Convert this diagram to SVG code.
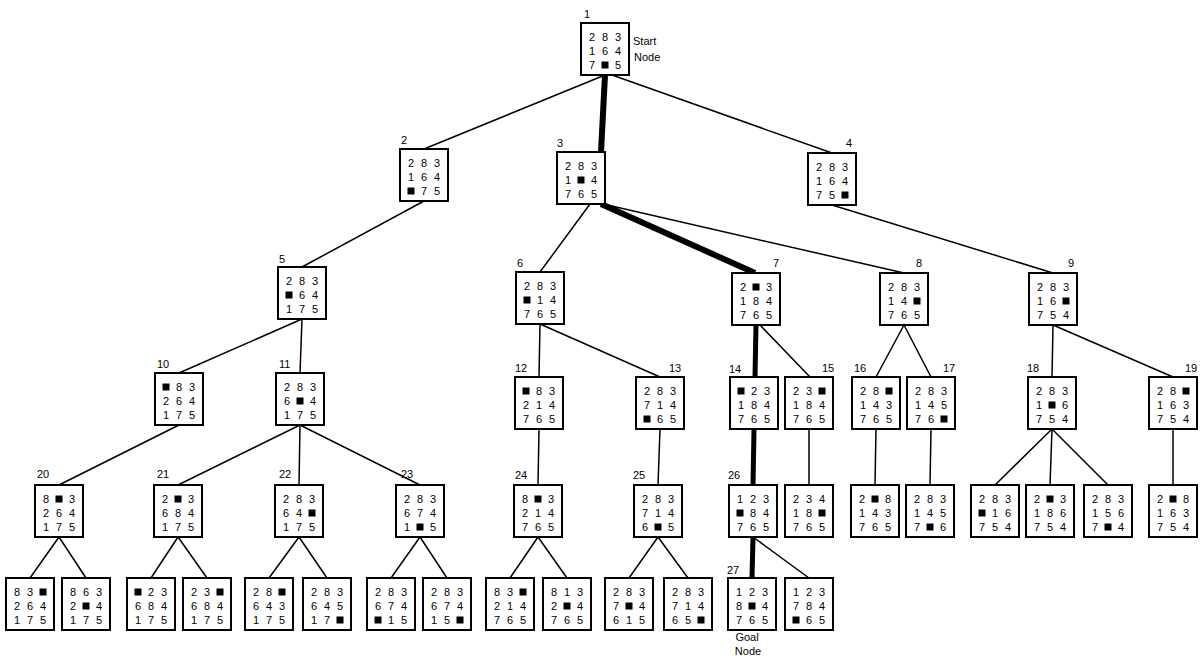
<svg xmlns="http://www.w3.org/2000/svg" xmlns:xlink="http://www.w3.org/1999/xlink" width="1200" height="667" viewBox="0 0 1200 667">
<style>
.b{fill:#fff;stroke:#000;stroke-width:2}
.c{font-family:"Liberation Sans",Arial,sans-serif;font-size:11px;text-anchor:middle;fill:#000}
.l{font-family:"Liberation Sans",Arial,sans-serif;font-size:11px;fill:#000}
.lm{font-family:"Liberation Sans",Arial,sans-serif;font-size:11px;fill:#000;text-anchor:middle}
.e{stroke:#000;stroke-width:1.5;fill:none;stroke-linecap:round}
.t{stroke:#000;stroke-width:6;fill:none}
.t2{stroke:#000;stroke-width:5;fill:none}
</style>
<defs>
<rect id="bk" width="7" height="7" fill="#000"/>
<rect id="bx" class="b" width="48" height="52"/>
</defs>
<rect width="1200" height="667" fill="#fff"/>
<g id="edges">
<line class="e" x1="605" y1="75" x2="424" y2="149"/>
<line class="e" x1="612" y1="75" x2="832" y2="153"/>
<line class="t" x1="605" y1="75" x2="601" y2="152"/>
<line class="e" x1="424" y1="201" x2="302" y2="267"/>
<line class="e" x1="590" y1="204" x2="540" y2="272"/>
<line class="e" x1="603" y1="204" x2="904" y2="273"/>
<line class="t" x1="601" y1="204" x2="755" y2="273"/>
<line class="e" x1="832" y1="205" x2="1053" y2="273"/>
<line class="e" x1="302" y1="319" x2="179" y2="373"/>
<line class="e" x1="302" y1="319" x2="300" y2="373"/>
<line class="e" x1="540" y1="324" x2="539" y2="377"/>
<line class="e" x1="540" y1="324" x2="660" y2="377"/>
<line class="t2" x1="756" y1="325" x2="755" y2="377"/>
<line class="e" x1="760" y1="325" x2="810" y2="377"/>
<line class="e" x1="904" y1="325" x2="876" y2="377"/>
<line class="e" x1="904" y1="325" x2="931" y2="377"/>
<line class="e" x1="1053" y1="325" x2="1052" y2="377"/>
<line class="e" x1="1053" y1="325" x2="1173" y2="377"/>
<line class="e" x1="179" y1="425" x2="59" y2="485"/>
<line class="e" x1="300" y1="425" x2="178" y2="485"/>
<line class="e" x1="300" y1="425" x2="299" y2="485"/>
<line class="e" x1="300" y1="425" x2="420" y2="485"/>
<line class="e" x1="539" y1="429" x2="538" y2="485"/>
<line class="e" x1="660" y1="429" x2="658" y2="485"/>
<line class="t2" x1="754" y1="429" x2="753" y2="485"/>
<line class="e" x1="809" y1="429" x2="809" y2="485"/>
<line class="e" x1="876" y1="429" x2="875" y2="485"/>
<line class="e" x1="931" y1="429" x2="930" y2="485"/>
<line class="e" x1="1052" y1="429" x2="995" y2="485"/>
<line class="e" x1="1052" y1="429" x2="1050" y2="485"/>
<line class="e" x1="1052" y1="429" x2="1108" y2="485"/>
<line class="e" x1="1173" y1="429" x2="1173" y2="485"/>
<line class="e" x1="59" y1="537" x2="30" y2="578"/>
<line class="e" x1="59" y1="537" x2="86" y2="578"/>
<line class="e" x1="178" y1="537" x2="151" y2="578"/>
<line class="e" x1="178" y1="537" x2="207" y2="578"/>
<line class="e" x1="299" y1="537" x2="269" y2="578"/>
<line class="e" x1="299" y1="537" x2="327" y2="578"/>
<line class="e" x1="420" y1="537" x2="391" y2="578"/>
<line class="e" x1="420" y1="537" x2="447" y2="578"/>
<line class="e" x1="538" y1="537" x2="510" y2="578"/>
<line class="e" x1="538" y1="537" x2="567" y2="578"/>
<line class="e" x1="658" y1="537" x2="629" y2="578"/>
<line class="e" x1="658" y1="537" x2="688" y2="578"/>
<line class="t2" x1="753" y1="537" x2="752" y2="578"/>
<line class="e" x1="753" y1="537" x2="809" y2="578"/>
</g>

<g id="n1" transform="translate(581,23)"><use xlink:href="#bx"/><text class="l" x="3" y="-5">1</text>
<text class="c" x="11 24 37" y="18">283</text><text class="c" x="11 24 37" y="32">164</text><text class="c" x="11 37" y="46">75</text><use xlink:href="#bk" x="20.5" y="38.5"/>
<text class="l" x="52" y="22">Start</text><text class="l" x="53" y="38">Node</text></g>

<g id="n2" transform="translate(400,149)"><use xlink:href="#bx"/><text class="l" x="1" y="-5">2</text>
<text class="c" x="11 24 37" y="18">283</text><text class="c" x="11 24 37" y="32">164</text><text class="c" x="24 37" y="46">75</text><use xlink:href="#bk" x="7.5" y="38.5"/></g>

<g id="n3" transform="translate(557,152)"><use xlink:href="#bx"/><text class="l" x="0" y="-5">3</text>
<text class="c" x="11 24 37" y="18">283</text><text class="c" x="11 37" y="32">14</text><use xlink:href="#bk" x="20.5" y="24.5"/><text class="c" x="11 24 37" y="46">765</text></g>

<g id="n4" transform="translate(808,153)"><use xlink:href="#bx"/><text class="l" x="38" y="-6">4</text>
<text class="c" x="11 24 37" y="18">283</text><text class="c" x="11 24 37" y="32">164</text><text class="c" x="11 24" y="46">75</text><use xlink:href="#bk" x="33.5" y="38.5"/></g>

<g id="n5" transform="translate(278,267)"><use xlink:href="#bx"/><text class="l" x="1" y="-4">5</text>
<text class="c" x="11 24 37" y="18">283</text><text class="c" x="24 37" y="32">64</text><use xlink:href="#bk" x="7.5" y="24.5"/><text class="c" x="11 24 37" y="46">175</text></g>

<g id="n6" transform="translate(516,272)"><use xlink:href="#bx"/><text class="l" x="1" y="-5">6</text>
<text class="c" x="11 24 37" y="18">283</text><text class="c" x="24 37" y="32">14</text><use xlink:href="#bk" x="7.5" y="24.5"/><text class="c" x="11 24 37" y="46">765</text></g>

<g id="n7" transform="translate(732,273)"><use xlink:href="#bx"/><text class="l" x="41" y="-6">7</text>
<text class="c" x="11 37" y="18">23</text><use xlink:href="#bk" x="20.5" y="10.5"/><text class="c" x="11 24 37" y="32">184</text><text class="c" x="11 24 37" y="46">765</text></g>

<g id="n8" transform="translate(880,273)"><use xlink:href="#bx"/><text class="l" x="36" y="-6">8</text>
<text class="c" x="11 24 37" y="18">283</text><text class="c" x="11 24" y="32">14</text><use xlink:href="#bk" x="33.5" y="24.5"/><text class="c" x="11 24 37" y="46">765</text></g>

<g id="n9" transform="translate(1029,273)"><use xlink:href="#bx"/><text class="l" x="39" y="-6">9</text>
<text class="c" x="11 24 37" y="18">283</text><text class="c" x="11 24" y="32">16</text><use xlink:href="#bk" x="33.5" y="24.5"/><text class="c" x="11 24 37" y="46">754</text></g>

<g id="n10" transform="translate(155,373)"><use xlink:href="#bx"/><text class="l" x="2" y="-5">10</text>
<text class="c" x="24 37" y="18">83</text><use xlink:href="#bk" x="7.5" y="10.5"/><text class="c" x="11 24 37" y="32">264</text><text class="c" x="11 24 37" y="46">175</text></g>

<g id="n11" transform="translate(276,373)"><use xlink:href="#bx"/><text class="l" x="3" y="-5">11</text>
<text class="c" x="11 24 37" y="18">283</text><text class="c" x="11 37" y="32">64</text><use xlink:href="#bk" x="20.5" y="24.5"/><text class="c" x="11 24 37" y="46">175</text></g>

<g id="n12" transform="translate(515,377)"><use xlink:href="#bx"/><text class="l" x="0" y="-5">12</text>
<text class="c" x="24 37" y="18">83</text><use xlink:href="#bk" x="7.5" y="10.5"/><text class="c" x="11 24 37" y="32">214</text><text class="c" x="11 24 37" y="46">765</text></g>

<g id="n13" transform="translate(636,377)"><use xlink:href="#bx"/><text class="l" x="33" y="-5">13</text>
<text class="c" x="11 24 37" y="18">283</text><text class="c" x="11 24 37" y="32">714</text><text class="c" x="24 37" y="46">65</text><use xlink:href="#bk" x="7.5" y="38.5"/></g>

<g id="n14" transform="translate(730,377)"><use xlink:href="#bx"/><text class="l" x="-1" y="-4">14</text>
<text class="c" x="24 37" y="18">23</text><use xlink:href="#bk" x="7.5" y="10.5"/><text class="c" x="11 24 37" y="32">184</text><text class="c" x="11 24 37" y="46">765</text></g>

<g id="n15" transform="translate(785,377)"><use xlink:href="#bx"/><text class="l" x="37" y="-5">15</text>
<text class="c" x="11 24" y="18">23</text><use xlink:href="#bk" x="33.5" y="10.5"/><text class="c" x="11 24 37" y="32">184</text><text class="c" x="11 24 37" y="46">765</text></g>

<g id="n16" transform="translate(852,377)"><use xlink:href="#bx"/><text class="l" x="2" y="-5">16</text>
<text class="c" x="11 24" y="18">28</text><use xlink:href="#bk" x="33.5" y="10.5"/><text class="c" x="11 24 37" y="32">143</text><text class="c" x="11 24 37" y="46">765</text></g>

<g id="n17" transform="translate(907,377)"><use xlink:href="#bx"/><text class="l" x="36" y="-5">17</text>
<text class="c" x="11 24 37" y="18">283</text><text class="c" x="11 24 37" y="32">145</text><text class="c" x="11 24" y="46">76</text><use xlink:href="#bk" x="33.5" y="38.5"/></g>

<g id="n18" transform="translate(1028,377)"><use xlink:href="#bx"/><text class="l" x="-1" y="-5">18</text>
<text class="c" x="11 24 37" y="18">283</text><text class="c" x="11 37" y="32">16</text><use xlink:href="#bk" x="20.5" y="24.5"/><text class="c" x="11 24 37" y="46">754</text></g>

<g id="n19" transform="translate(1149,377)"><use xlink:href="#bx"/><text class="l" x="36" y="-5">19</text>
<text class="c" x="11 24" y="18">28</text><use xlink:href="#bk" x="33.5" y="10.5"/><text class="c" x="11 24 37" y="32">163</text><text class="c" x="11 24 37" y="46">754</text></g>

<g id="n20" transform="translate(35,485)"><use xlink:href="#bx"/><text class="l" x="2" y="-7">20</text>
<text class="c" x="11 37" y="18">83</text><use xlink:href="#bk" x="20.5" y="10.5"/><text class="c" x="11 24 37" y="32">264</text><text class="c" x="11 24 37" y="46">175</text></g>

<g id="n21" transform="translate(154,485)"><use xlink:href="#bx"/><text class="l" x="3" y="-7">21</text>
<text class="c" x="11 37" y="18">23</text><use xlink:href="#bk" x="20.5" y="10.5"/><text class="c" x="11 24 37" y="32">684</text><text class="c" x="11 24 37" y="46">175</text></g>

<g id="n22" transform="translate(275,485)"><use xlink:href="#bx"/><text class="l" x="4" y="-7">22</text>
<text class="c" x="11 24 37" y="18">283</text><text class="c" x="11 24" y="32">64</text><use xlink:href="#bk" x="33.5" y="24.5"/><text class="c" x="11 24 37" y="46">175</text></g>

<g id="n23" transform="translate(396,485)"><use xlink:href="#bx"/><text class="l" x="5" y="-7">23</text>
<text class="c" x="11 24 37" y="18">283</text><text class="c" x="11 24 37" y="32">674</text><text class="c" x="11 37" y="46">15</text><use xlink:href="#bk" x="20.5" y="38.5"/></g>

<g id="n24" transform="translate(514,485)"><use xlink:href="#bx"/><text class="l" x="1" y="-6">24</text>
<text class="c" x="11 37" y="18">83</text><use xlink:href="#bk" x="20.5" y="10.5"/><text class="c" x="11 24 37" y="32">214</text><text class="c" x="11 24 37" y="46">765</text></g>

<g id="n25" transform="translate(634,485)"><use xlink:href="#bx"/><text class="l" x="-1" y="-6">25</text>
<text class="c" x="11 24 37" y="18">283</text><text class="c" x="11 24 37" y="32">714</text><text class="c" x="11 37" y="46">65</text><use xlink:href="#bk" x="20.5" y="38.5"/></g>

<g id="n26" transform="translate(729,485)"><use xlink:href="#bx"/><text class="l" x="-1" y="-6">26</text>
<text class="c" x="11 24 37" y="18">123</text><text class="c" x="24 37" y="32">84</text><use xlink:href="#bk" x="7.5" y="24.5"/><text class="c" x="11 24 37" y="46">765</text></g>

<g id="n15a" transform="translate(785,485)"><use xlink:href="#bx"/>
<text class="c" x="11 24 37" y="18">234</text><text class="c" x="11 24" y="32">18</text><use xlink:href="#bk" x="33.5" y="24.5"/><text class="c" x="11 24 37" y="46">765</text></g>

<g id="n16a" transform="translate(851,485)"><use xlink:href="#bx"/>
<text class="c" x="11 37" y="18">28</text><use xlink:href="#bk" x="20.5" y="10.5"/><text class="c" x="11 24 37" y="32">143</text><text class="c" x="11 24 37" y="46">765</text></g>

<g id="n17a" transform="translate(906,485)"><use xlink:href="#bx"/>
<text class="c" x="11 24 37" y="18">283</text><text class="c" x="11 24 37" y="32">145</text><text class="c" x="11 37" y="46">76</text><use xlink:href="#bk" x="20.5" y="38.5"/></g>

<g id="n18a" transform="translate(971,485)"><use xlink:href="#bx"/>
<text class="c" x="11 24 37" y="18">283</text><text class="c" x="24 37" y="32">16</text><use xlink:href="#bk" x="7.5" y="24.5"/><text class="c" x="11 24 37" y="46">754</text></g>

<g id="n18b" transform="translate(1026,485)"><use xlink:href="#bx"/>
<text class="c" x="11 37" y="18">23</text><use xlink:href="#bk" x="20.5" y="10.5"/><text class="c" x="11 24 37" y="32">186</text><text class="c" x="11 24 37" y="46">754</text></g>

<g id="n18c" transform="translate(1084,485)"><use xlink:href="#bx"/>
<text class="c" x="11 24 37" y="18">283</text><text class="c" x="11 24 37" y="32">156</text><text class="c" x="11 37" y="46">74</text><use xlink:href="#bk" x="20.5" y="38.5"/></g>

<g id="n19a" transform="translate(1149,485)"><use xlink:href="#bx"/>
<text class="c" x="11 37" y="18">28</text><use xlink:href="#bk" x="20.5" y="10.5"/><text class="c" x="11 24 37" y="32">163</text><text class="c" x="11 24 37" y="46">754</text></g>

<g id="n20a" transform="translate(6,578)"><use xlink:href="#bx"/>
<text class="c" x="11 24" y="18">83</text><use xlink:href="#bk" x="33.5" y="10.5"/><text class="c" x="11 24 37" y="32">264</text><text class="c" x="11 24 37" y="46">175</text></g>

<g id="n20b" transform="translate(62,578)"><use xlink:href="#bx"/>
<text class="c" x="11 24 37" y="18">863</text><text class="c" x="11 37" y="32">24</text><use xlink:href="#bk" x="20.5" y="24.5"/><text class="c" x="11 24 37" y="46">175</text></g>

<g id="n21a" transform="translate(127,578)"><use xlink:href="#bx"/>
<text class="c" x="24 37" y="18">23</text><use xlink:href="#bk" x="7.5" y="10.5"/><text class="c" x="11 24 37" y="32">684</text><text class="c" x="11 24 37" y="46">175</text></g>

<g id="n21b" transform="translate(183,578)"><use xlink:href="#bx"/>
<text class="c" x="11 24" y="18">23</text><use xlink:href="#bk" x="33.5" y="10.5"/><text class="c" x="11 24 37" y="32">684</text><text class="c" x="11 24 37" y="46">175</text></g>

<g id="n22a" transform="translate(245,578)"><use xlink:href="#bx"/>
<text class="c" x="11 24" y="18">28</text><use xlink:href="#bk" x="33.5" y="10.5"/><text class="c" x="11 24 37" y="32">643</text><text class="c" x="11 24 37" y="46">175</text></g>

<g id="n22b" transform="translate(303,578)"><use xlink:href="#bx"/>
<text class="c" x="11 24 37" y="18">283</text><text class="c" x="11 24 37" y="32">645</text><text class="c" x="11 24" y="46">17</text><use xlink:href="#bk" x="33.5" y="38.5"/></g>

<g id="n23a" transform="translate(367,578)"><use xlink:href="#bx"/>
<text class="c" x="11 24 37" y="18">283</text><text class="c" x="11 24 37" y="32">674</text><text class="c" x="24 37" y="46">15</text><use xlink:href="#bk" x="7.5" y="38.5"/></g>

<g id="n23b" transform="translate(423,578)"><use xlink:href="#bx"/>
<text class="c" x="11 24 37" y="18">283</text><text class="c" x="11 24 37" y="32">674</text><text class="c" x="11 24" y="46">15</text><use xlink:href="#bk" x="33.5" y="38.5"/></g>

<g id="n24a" transform="translate(486,578)"><use xlink:href="#bx"/>
<text class="c" x="11 24" y="18">83</text><use xlink:href="#bk" x="33.5" y="10.5"/><text class="c" x="11 24 37" y="32">214</text><text class="c" x="11 24 37" y="46">765</text></g>

<g id="n24b" transform="translate(543,578)"><use xlink:href="#bx"/>
<text class="c" x="11 24 37" y="18">813</text><text class="c" x="11 37" y="32">24</text><use xlink:href="#bk" x="20.5" y="24.5"/><text class="c" x="11 24 37" y="46">765</text></g>

<g id="n25a" transform="translate(605,578)"><use xlink:href="#bx"/>
<text class="c" x="11 24 37" y="18">283</text><text class="c" x="11 37" y="32">74</text><use xlink:href="#bk" x="20.5" y="24.5"/><text class="c" x="11 24 37" y="46">615</text></g>

<g id="n25b" transform="translate(664,578)"><use xlink:href="#bx"/>
<text class="c" x="11 24 37" y="18">283</text><text class="c" x="11 24 37" y="32">714</text><text class="c" x="11 24" y="46">65</text><use xlink:href="#bk" x="33.5" y="38.5"/></g>

<g id="n27" transform="translate(728,578)"><use xlink:href="#bx"/><text class="l" x="-1" y="-4">27</text>
<text class="c" x="11 24 37" y="18">123</text><text class="c" x="11 37" y="32">84</text><use xlink:href="#bk" x="20.5" y="24.5"/><text class="c" x="11 24 37" y="46">765</text>
<text class="lm" x="19" y="63">Goal</text><text class="lm" x="20" y="77">Node</text></g>

<g id="n26b" transform="translate(785,578)"><use xlink:href="#bx"/>
<text class="c" x="11 24 37" y="18">123</text><text class="c" x="11 24 37" y="32">784</text><text class="c" x="24 37" y="46">65</text><use xlink:href="#bk" x="7.5" y="38.5"/></g>
</svg>
